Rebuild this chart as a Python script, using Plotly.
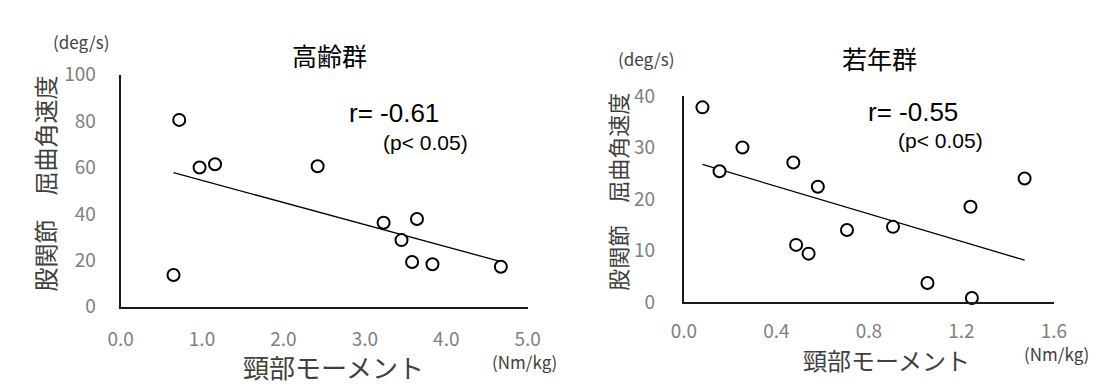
import numpy as np
import plotly.graph_objects as go

# ---- data ----
old_moment = [0.72, 0.97, 1.16, 2.42, 3.23, 3.64, 3.45, 3.58, 3.83, 4.67, 0.65]
old_velocity = [80.5, 60.0, 61.4, 60.5, 36.2, 37.8, 28.7, 19.3, 18.3, 17.2, 13.7]

young_moment = [0.08, 0.154, 0.253, 0.473, 0.579, 1.473, 1.239, 0.904, 0.705, 0.485, 0.539, 1.053, 1.245]
young_velocity = [37.8, 25.4, 30.0, 27.1, 22.4, 24.0, 18.5, 14.6, 14.0, 11.1, 9.4, 3.7, 0.8]

old_title = "高齢群"
young_title = "若年群"
old_r_text = "r= -0.61"
young_r_text = "r= -0.55"
p_text = "(p< 0.05)"
y_title = "股関節　屈曲角速度"
x_title = "頸部モーメント"
y_unit = "(deg/s)"
x_unit = "(Nm/kg)"

W, H = 1099, 387
CJK = "Noto Sans CJK JP"
ARIAL = "Liberation Sans"


def fit(xs, ys):
    xs = np.asarray(xs, float)
    ys = np.asarray(ys, float)
    k, b = np.polyfit(xs, ys, 1)
    xl = np.array([xs.min(), xs.max()])
    return xl, k * xl + b


fig = go.Figure()

for xs, ys, xa, ya in [(old_moment, old_velocity, "x", "y"),
                       (young_moment, young_velocity, "x2", "y2")]:
    lx, ly = fit(xs, ys)
    fig.add_trace(go.Scatter(x=lx, y=ly, mode="lines", xaxis=xa, yaxis=ya,
                             line=dict(color="black", width=1.3),
                             showlegend=False, hoverinfo="skip"))
    fig.add_trace(go.Scatter(x=xs, y=ys, mode="markers", xaxis=xa, yaxis=ya,
                             marker=dict(symbol="circle", size=12, color="white",
                                         line=dict(color="black", width=2)),
                             cliponaxis=False, showlegend=False))

tickfont = dict(family=CJK, size=19, color="#808080")
axis_common = dict(showline=True, linecolor="#1a1a1a", linewidth=2, showgrid=False,
                   zeroline=False, ticks="", tickfont=tickfont, mirror=False)


def px(x):
    return x / W


def py(y):
    return 1 - y / H


fig.update_layout(
    width=W, height=H,
    margin=dict(l=0, r=0, t=0, b=0),
    paper_bgcolor="white", plot_bgcolor="white",
    xaxis=dict(domain=[px(102), px(519)], range=[0, 5], dtick=1, tickformat=".1f",
               anchor="y", ticklabelstandoff=14, **axis_common),
    yaxis=dict(domain=[py(305), py(55.5)], range=[0, 100], dtick=20,
               anchor="x", ticklabelstandoff=19, **axis_common),
    xaxis2=dict(domain=[px(679), px(1058)], range=[0, 1.6], dtick=0.4, tickformat=".1f",
                anchor="y2", ticklabelstandoff=11, **axis_common),
    yaxis2=dict(domain=[py(300), py(78.5)], range=[0, 40], dtick=10,
                anchor="x2", ticklabelstandoff=23, **axis_common),
)


def ann(text, x, y, size, family=CJK, color="black", angle=0):
    fig.add_annotation(text=text, x=px(x), y=py(y), xref="paper", yref="paper",
                       xanchor="center", yanchor="middle", showarrow=False,
                       textangle=angle, font=dict(family=family, size=size, color=color))


# left panel texts
ann(old_title, 316, 34, 25)
ann(old_r_text, 382, 97, 26, ARIAL)
ann(p_text, 414, 128, 21, ARIAL)
ann(y_title, 24, 172, 24, CJK, "#404040", -90)
ann(x_title, 320, 369.5, 26, CJK, "#404040")
ann(y_unit, 61, 20, 17, CJK, "#404040")
ann(x_unit, 516, 364, 17, CJK, "#404040")

# right panel texts
ann(young_title, 879, 38, 25)
ann(young_r_text, 914, 96, 26, ARIAL)
ann(p_text, 942, 126, 21, ARIAL)
ann(y_title, 611, 182, 22, CJK, "#404040", -90)
ann(x_title, 886, 362, 24, CJK, "#404040")
ann(y_unit, 640, 38, 17, CJK, "#404040")
ann(x_unit, 1061, 355, 17, CJK, "#404040")

fig.write_html("out.html")
